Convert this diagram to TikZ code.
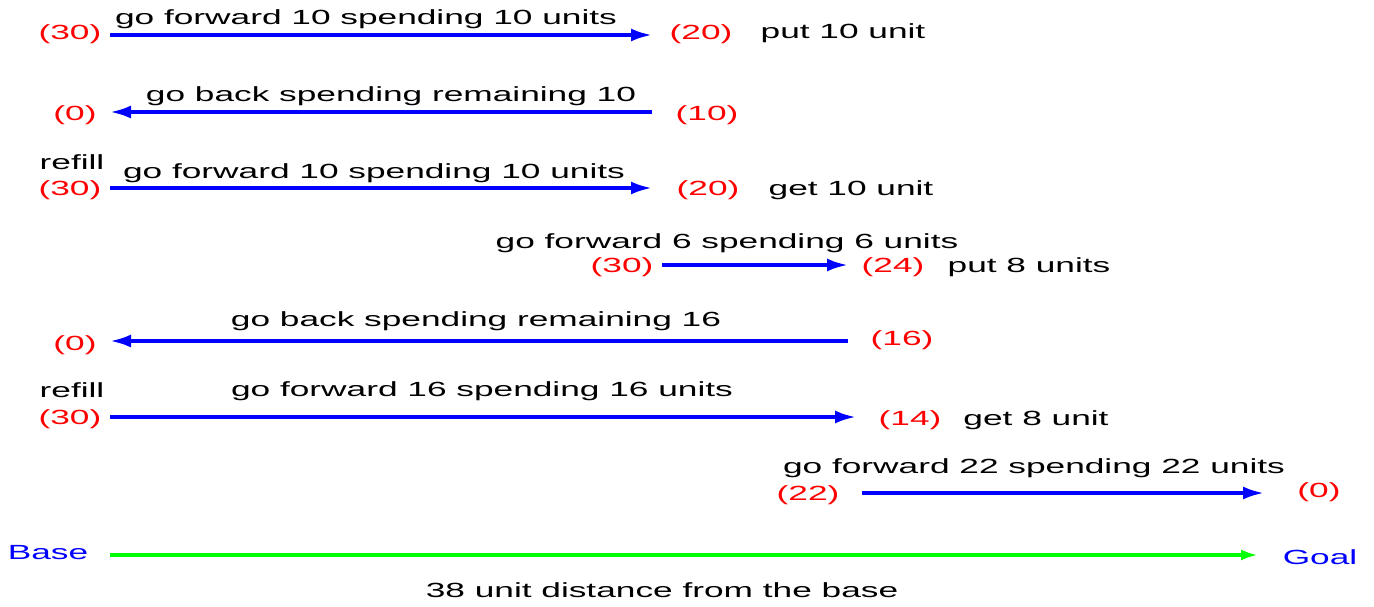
\documentclass[tikz,border=0pt]{standalone}
\usepackage{fontspec}
\setmainfont[FakeStretch=1.72]{Liberation Sans}
\usetikzlibrary{arrows.meta}
\definecolor{pblue}{RGB}{0,0,255}
\definecolor{pred}{RGB}{255,0,0}
\definecolor{pgreen}{RGB}{0,255,0}
\begin{document}
\begin{tikzpicture}[x=1pt,y=-1pt,
  txt/.style={inner sep=0pt,font=\fontsize{20.5}{23}\selectfont,text=black},
  val/.style={txt,text=pred},
  endl/.style={txt,text=pblue},
  move/.style={draw=pblue,line width=3.5pt,-{Latex[length=21pt,width=13pt]}},
  axis/.style={draw=pgreen,line width=3.5pt,-{Latex[length=17pt,width=11pt]}}]
\useasboundingbox (0,0) rectangle (1374,606);
% row 1
\node[val] (v1a) at (70,34) {(30)};
\node[val] (v1b) at (701,34) {(20)};
\node[txt] (n1) at (843,33) {put 10 unit};
\node[txt] (l1) at (366,19) {go forward 10 spending 10 units};
\coordinate (a1s) at (110,35); \coordinate (a1e) at (652,35);
\draw[move] (a1s) -- (a1e);
% row 2
\node[val] (v2a) at (75,115) {(0)};
\node[val] (v2b) at (707,115) {(10)};
\node[txt] (l2) at (391,96) {go back spending remaining 10};
\coordinate (a2s) at (652,112); \coordinate (a2e) at (110,112);
\draw[move] (a2s) -- (a2e);
% row 3
\node[txt] (r3) at (72,162) {refill};
\node[val] (v3a) at (70,190) {(30)};
\node[val] (v3b) at (708,190) {(20)};
\node[txt] (n3) at (851,190) {get 10 unit};
\node[txt] (l3) at (374,173) {go forward 10 spending 10 units};
\coordinate (a3s) at (110,188); \coordinate (a3e) at (652,188);
\draw[move] (a3s) -- (a3e);
% row 4
\node[txt] (l4) at (727,243) {go forward 6 spending 6 units};
\node[val] (v4a) at (622,267) {(30)};
\node[val] (v4b) at (893,267) {(24)};
\node[txt] (n4) at (1029,267) {put 8 units};
\coordinate (a4s) at (662,265); \coordinate (a4e) at (848,265);
\draw[move] (a4s) -- (a4e);
% row 5
\node[val] (v5a) at (75,345) {(0)};
\node[val] (v5b) at (902,340) {(16)};
\node[txt] (l5) at (476,321) {go back spending remaining 16};
\coordinate (a5s) at (848,341); \coordinate (a5e) at (110,341);
\draw[move] (a5s) -- (a5e);
% row 6
\node[txt] (r6) at (72,390) {refill};
\node[val] (v6a) at (70,419) {(30)};
\node[val] (v6b) at (910,420) {(14)};
\node[txt] (n6) at (1036,420) {get 8 unit};
\node[txt] (l6) at (482,391) {go forward 16 spending 16 units};
\coordinate (a6s) at (110,417); \coordinate (a6e) at (856,417);
\draw[move] (a6s) -- (a6e);
% row 7
\node[txt] (l7) at (1034,468) {go forward 22 spending 22 units};
\node[val] (v7a) at (808,495) {(22)};
\node[val] (v7b) at (1319,492) {(0)};
\coordinate (a7s) at (862,493); \coordinate (a7e) at (1264,493);
\draw[move] (a7s) -- (a7e);
% axis
\node[endl] (base) at (48,553) {Base};
\node[endl] (goal) at (1320,557) {Goal};
\node[txt] (dist) at (662,590) {38 unit distance from the base};
\coordinate (bs) at (110,555); \coordinate (be) at (1258,555);
\draw[axis] (bs) -- (be);
\end{tikzpicture}
\end{document}
